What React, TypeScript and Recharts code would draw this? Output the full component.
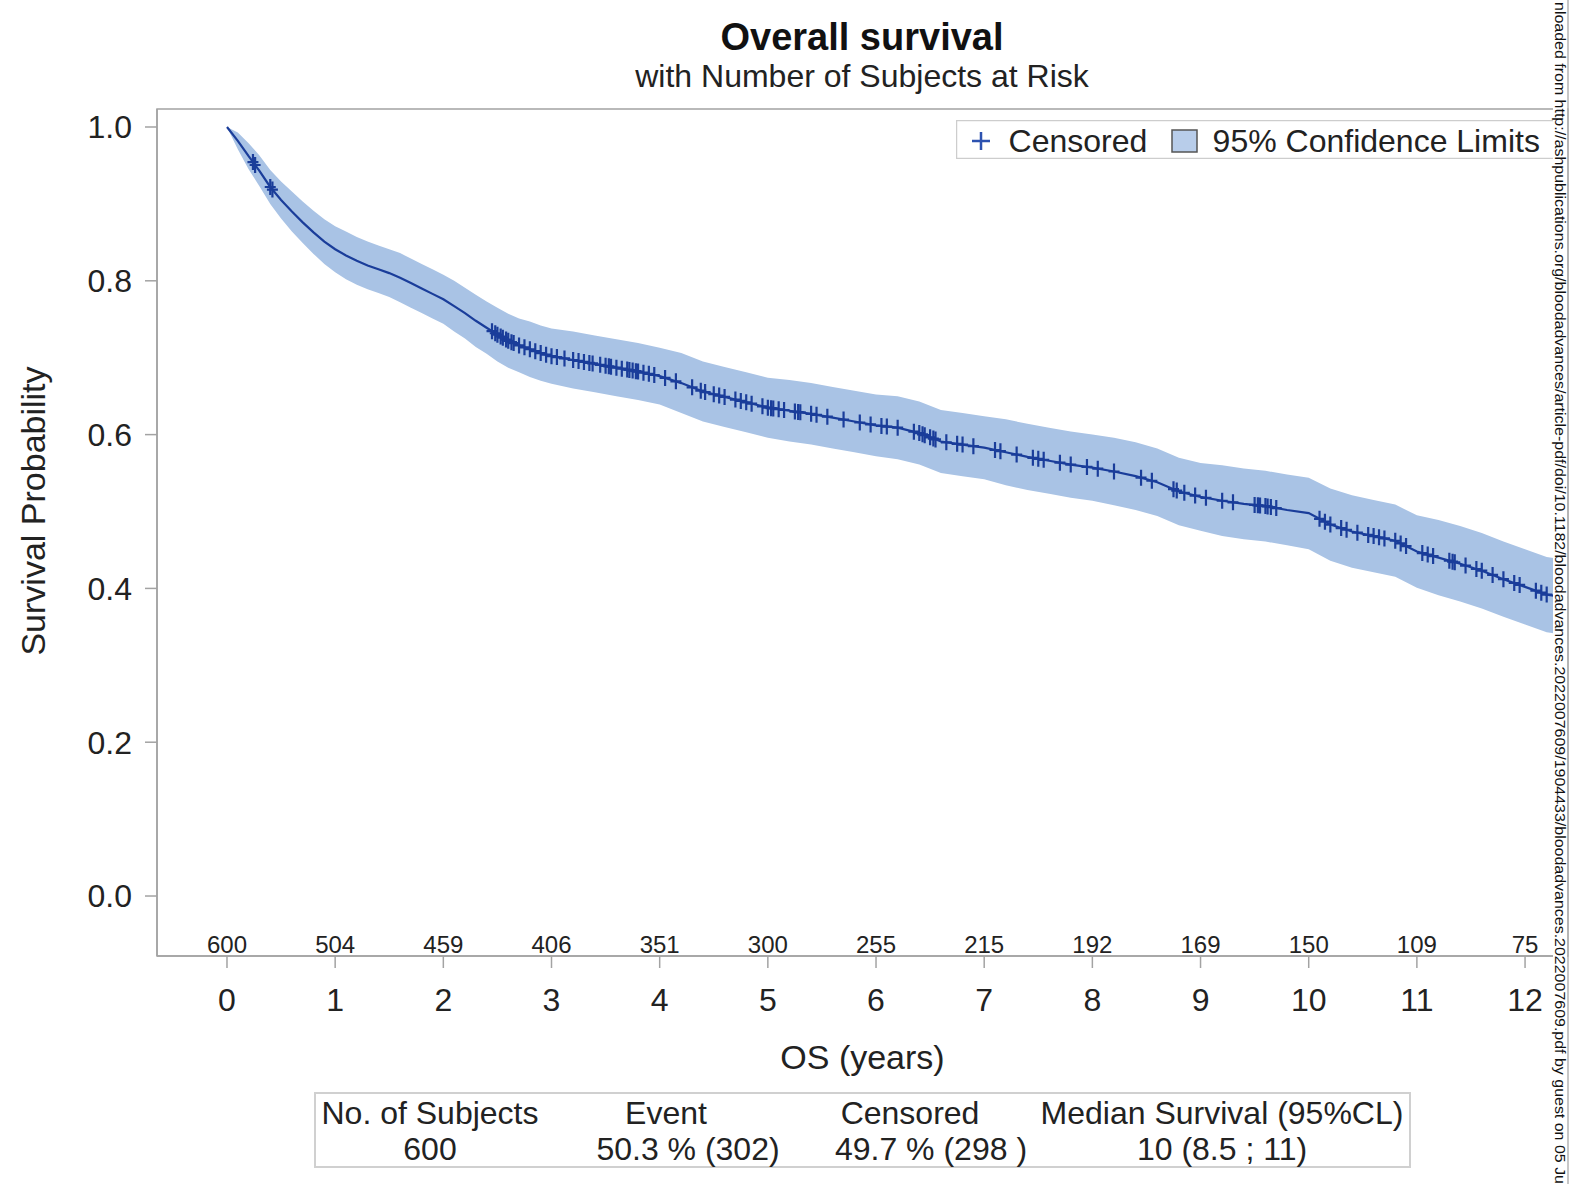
import React from 'react';
import { ComposedChart, Line, Area, Scatter, XAxis, YAxis, ReferenceArea, Legend } from 'recharts';

// ---- data ----
const kmTime = [
  0, 0.1, 0.2, 0.3, 0.4, 0.5, 0.6, 0.7, 0.8, 0.9, 1.0, 1.1, 1.2, 1.3, 1.4, 1.5, 1.6, 1.7, 1.8, 1.9, 2.0,
  2.1, 2.2, 2.3, 2.4, 2.5, 2.6, 2.7, 2.8, 2.9, 3.0, 3.2, 3.4, 3.6, 3.8, 4.0, 4.2, 4.4, 4.6, 4.8, 5.0,
  5.2, 5.4, 5.6, 5.8, 6.0, 6.2, 6.4, 6.6, 6.8, 7.0, 7.2, 7.4, 7.6, 7.8, 8.0, 8.2, 8.4, 8.6, 8.8, 9.0,
  9.2, 9.4, 9.6, 9.8, 10.0, 10.2, 10.4, 10.6, 10.8, 11.0, 11.2, 11.4, 11.6, 11.8, 12.0, 12.2, 12.39,
];
const kmSurv = [
  1.0, 0.982, 0.962, 0.943, 0.922, 0.905, 0.89, 0.876, 0.863, 0.851, 0.841, 0.833, 0.826, 0.82, 0.815, 0.81, 0.804, 0.797, 0.79, 0.783, 0.776,
  0.767, 0.758, 0.748, 0.739, 0.73, 0.722, 0.716, 0.711, 0.706, 0.702, 0.697, 0.692, 0.687, 0.682, 0.676, 0.667, 0.656, 0.649, 0.642, 0.635,
  0.631, 0.627, 0.622, 0.617, 0.612, 0.609, 0.602, 0.591, 0.587, 0.583, 0.577, 0.571, 0.566, 0.561, 0.557, 0.552, 0.546, 0.538, 0.526, 0.519,
  0.514, 0.51, 0.507, 0.502, 0.498, 0.483, 0.474, 0.468, 0.462, 0.448, 0.44, 0.432, 0.423, 0.412, 0.402, 0.392, 0.388,
];
const kmLower = [
  1.0, 0.971, 0.945, 0.923, 0.9, 0.881, 0.864, 0.849, 0.835, 0.822, 0.811, 0.802, 0.795, 0.789, 0.784, 0.779, 0.772, 0.765, 0.758, 0.751, 0.744,
  0.734, 0.725, 0.714, 0.705, 0.695, 0.687, 0.681, 0.675, 0.67, 0.666, 0.66, 0.655, 0.65, 0.645, 0.639, 0.628, 0.617, 0.61, 0.603, 0.596,
  0.591, 0.587, 0.582, 0.577, 0.572, 0.568, 0.561, 0.55, 0.546, 0.542, 0.534, 0.528, 0.523, 0.518, 0.514, 0.508, 0.502, 0.494, 0.482, 0.475,
  0.468, 0.464, 0.461, 0.456, 0.451, 0.436, 0.427, 0.421, 0.415, 0.401, 0.391, 0.383, 0.374, 0.363, 0.353, 0.343, 0.339,
];
const kmUpper = [
  1.0, 0.993, 0.979, 0.963, 0.944, 0.929, 0.916, 0.903, 0.891, 0.88, 0.871, 0.864, 0.857, 0.851, 0.846, 0.841, 0.836, 0.829, 0.822, 0.815, 0.808,
  0.8, 0.791, 0.782, 0.773, 0.765, 0.757, 0.751, 0.747, 0.742, 0.738, 0.734, 0.729, 0.724, 0.719, 0.713, 0.706, 0.695, 0.688, 0.681, 0.674,
  0.671, 0.667, 0.662, 0.657, 0.652, 0.65, 0.643, 0.632, 0.628, 0.624, 0.62, 0.614, 0.609, 0.604, 0.6, 0.596, 0.59, 0.582, 0.57, 0.563,
  0.56, 0.556, 0.553, 0.548, 0.544, 0.53, 0.521, 0.515, 0.509, 0.495, 0.489, 0.481, 0.472, 0.461, 0.451, 0.441, 0.437,
];
const censorTimes = [
  0.24, 0.26, 0.4, 0.42,
  2.45, 2.48, 2.5, 2.53, 2.55, 2.58, 2.6, 2.63, 2.65, 2.7, 2.75, 2.8, 2.85, 2.9, 2.95, 3.0, 3.05, 3.12, 3.2,
  3.25, 3.3, 3.35, 3.38, 3.45, 3.5, 3.53, 3.55, 3.6, 3.65, 3.7, 3.72, 3.75, 3.78, 3.8, 3.85, 3.9, 3.95, 4.05,
  4.15, 4.3, 4.38, 4.42, 4.5, 4.55, 4.6, 4.7, 4.75, 4.8, 4.85, 4.95, 5.0, 5.03, 5.05, 5.1, 5.15, 5.25, 5.28,
  5.3, 5.4, 5.45, 5.55, 5.7, 5.85, 5.95, 6.05, 6.1, 6.2, 6.35, 6.4, 6.43, 6.45, 6.5, 6.53, 6.55, 6.65, 6.75,
  6.8, 6.9, 7.1, 7.15, 7.3, 7.45, 7.5, 7.55, 7.7, 7.8, 7.95, 8.05, 8.2, 8.45, 8.55, 8.75, 8.78, 8.85, 8.95,
  9.05, 9.2, 9.3, 9.5, 9.53, 9.55, 9.6, 9.62, 9.65, 9.7, 10.1, 10.15, 10.2, 10.3, 10.35, 10.45, 10.55, 10.6,
  10.65, 10.7, 10.8, 10.85, 10.9, 11.05, 11.1, 11.15, 11.3, 11.33, 11.35, 11.45, 11.55, 11.6, 11.7, 11.8, 11.9,
  11.95, 12.1, 12.15, 12.2,
];
const yearTicks = [0, 1, 2, 3, 4, 5, 6, 7, 8, 9, 10, 11, 12];
const atRisk = [600, 504, 459, 406, 351, 300, 255, 215, 192, 169, 150, 109, 75];
const probTicks = [0, 0.2, 0.4, 0.6, 0.8, 1.0];
const summaryHeaders = ['No. of Subjects', 'Event', 'Censored', 'Median Survival (95%CL)'];
const summaryValues = ['600', '50.3 % (302)', '49.7 % (298 )', '10 (8.5 ; 11)'];
const titleText = 'Overall survival';
const subtitleText = 'with Number of Subjects at Risk';
const xTitle = 'OS (years)';
const yTitle = 'Survival Probability';
const legendLabels = ['Censored', '95% Confidence Limits'];
const watermark =
  'nloaded from http://ashpublications.org/bloodadvances/article-pdf/doi/10.1182/bloodadvances.2022007609/1904433/bloodadvances.2022007609.pdf by guest on 05 Ju';

// ---- derived tables ----
const kmRows = kmTime.map((t, i) => ({ t, s: kmSurv[i], ci: [kmLower[i], kmUpper[i]] }));
const survAt = (t: number) => {
  for (let i = 1; i < kmTime.length; i++) {
    if (kmTime[i] >= t) {
      const a = kmTime[i - 1];
      const b = kmTime[i];
      const f = (t - a) / (b - a);
      return kmSurv[i - 1] + f * (kmSurv[i] - kmSurv[i - 1]);
    }
  }
  return kmSurv[kmSurv.length - 1];
};
const censorRows = censorTimes.map((t) => ({ t, s: survAt(t) }));

// ---- styling ----
const FONT = '"Liberation Sans", Arial, Helvetica, sans-serif';
const LINE = '#1a3d9a';
const BAND = '#a9c3e5';
const AXIS = '#a3a3a3';
const TEXT = '#222';
const X_MIN = -0.647;
const X_MAX = 12.397;
const Y_MIN = -0.078;
const Y_MAX = 1.0234;

const CensorMark = (props: any) => {
  const { cx, cy } = props;
  if (cx == null || cy == null) return null;
  return (
    <path
      d={`M${cx - 5.5},${cy}H${cx + 5.5}M${cx},${cy - 8}V${cy + 8}`}
      stroke={LINE}
      strokeWidth={2.2}
      fill="none"
    />
  );
};

const XTick = (props: any) => {
  const { x, y, payload } = props;
  const idx = yearTicks.indexOf(payload.value);
  return (
    <g>
      <text x={x} y={y + 42.5} textAnchor="middle" fontSize={32} fill={TEXT}>
        {payload.value}
      </text>
      <text x={x} y={y - 15.5} textAnchor="middle" fontSize={24} fill={TEXT}>
        {idx >= 0 ? atRisk[idx] : ''}
      </text>
    </g>
  );
};

const renderYLabel = () => (
  <text transform="translate(44.5,511) rotate(-90)" textAnchor="middle" fontSize={34} fill={TEXT}>
    {yTitle}
  </text>
);

const renderXLabel = (props: any) => {
  const vb = props.viewBox || { x: 157, y: 956, width: 1411 };
  return (
    <text x={vb.x + vb.width / 2} y={1069} textAnchor="middle" fontSize={34} fill={TEXT}>
      {xTitle}
    </text>
  );
};

const renderLegend = () => (
  <svg width={610} height={39} style={{ display: 'block', fontFamily: FONT }}>
    <rect x={0.5} y={0.5} width={609} height={38} fill="#fff" stroke="#cdcdcd" strokeWidth={1.5} />
    <path d="M16,21H34M25,12V30" stroke="#2d52b0" strokeWidth={2.5} fill="none" />
    <text x={52.6} y={32} fontSize={32} fill={TEXT}>
      {legendLabels[0]}
    </text>
    <rect x={216} y={10} width={25} height={22} fill="#b8cdea" stroke="#555" strokeWidth={1.5} />
    <text x={256.6} y={32} fontSize={32} fill={TEXT}>
      {legendLabels[1]}
    </text>
  </svg>
);

export default function App() {
  const headerX = [430, 666, 910, 1222];
  const valueX = [430, 688, 931, 1222];
  return (
    <div
      style={{
        position: 'absolute',
        left: 0,
        top: 0,
        width: 1591,
        height: 1184,
        background: '#fff',
        fontFamily: FONT,
        overflow: 'hidden',
      }}
    >
      <ComposedChart
        width={1591}
        height={1184}
        data={kmRows}
        margin={{ top: 109, right: 23, bottom: 0, left: 0 }}
      >
        <XAxis
          dataKey="t"
          type="number"
          domain={[X_MIN, X_MAX]}
          allowDataOverflow
          ticks={yearTicks}
          interval={0}
          height={228}
          tickSize={12}
          tickMargin={0}
          axisLine={{ stroke: AXIS, strokeWidth: 1.5 }}
          tickLine={{ stroke: AXIS, strokeWidth: 1.5 }}
          tick={<XTick />}
          label={renderXLabel}
        />
        <YAxis
          type="number"
          domain={[Y_MIN, Y_MAX]}
          allowDataOverflow
          ticks={probTicks}
          interval={0}
          width={157}
          tickSize={12}
          tickMargin={13}
          tickFormatter={(v: number) => v.toFixed(1)}
          tick={{ fontSize: 32, fill: TEXT }}
          axisLine={{ stroke: AXIS, strokeWidth: 1.5 }}
          tickLine={{ stroke: AXIS, strokeWidth: 1.5 }}
          label={renderYLabel}
        />
        <Area
          type="linear"
          dataKey="ci"
          stroke="none"
          fill={BAND}
          fillOpacity={1}
          isAnimationActive={false}
          legendType="none"
        />
        <Line
          type="linear"
          dataKey="s"
          stroke={LINE}
          strokeWidth={2.2}
          dot={false}
          activeDot={false}
          isAnimationActive={false}
          legendType="none"
        />
        <Scatter
          data={censorRows}
          dataKey="s"
          shape={CensorMark}
          isAnimationActive={false}
          legendType="none"
        />
        <ReferenceArea
          x1={X_MIN}
          x2={X_MAX}
          y1={Y_MIN}
          y2={Y_MAX}
          fill="none"
          fillOpacity={0}
          stroke={AXIS}
          strokeWidth={1.5}
          ifOverflow="visible"
        />
        <Legend
          content={renderLegend}
          layout="horizontal"
          verticalAlign="middle"
          align="center"
          wrapperStyle={{ position: 'absolute', left: 956, top: 120, width: 610, height: 39 }}
        />
      </ComposedChart>
      <svg
        width={1591}
        height={1184}
        style={{ position: 'absolute', left: 0, top: 0, pointerEvents: 'none', fontFamily: FONT }}
      >
        <text x={862} y={50} textAnchor="middle" fontSize={38} fontWeight="bold" fill="#111">
          {titleText}
        </text>
        <text x={862} y={87} textAnchor="middle" fontSize={32} fill={TEXT}>
          {subtitleText}
        </text>
        <rect x={315} y={1093} width={1095} height={74} fill="#fff" stroke="#d0d0d0" strokeWidth={2} />
        {summaryHeaders.map((h, i) => (
          <text key={'h' + i} x={headerX[i]} y={1124} textAnchor="middle" fontSize={32} fill={TEXT}>
            {h}
          </text>
        ))}
        {summaryValues.map((v, i) => (
          <text key={'v' + i} x={valueX[i]} y={1160} textAnchor="middle" fontSize={32} fill={TEXT}>
            {v}
          </text>
        ))}
        <rect x={1553} y={0} width={14} height={1184} fill="#fff" />
        <line x1={1568} y1={0} x2={1568} y2={1184} stroke="#b5b5b5" strokeWidth={1.5} />
        <text
          transform="translate(1555,2) rotate(90)"
          fontSize={15}
          textLength={1182}
          lengthAdjust="spacingAndGlyphs"
          fill="#111"
        >
          {watermark}
        </text>
      </svg>
    </div>
  );
}
